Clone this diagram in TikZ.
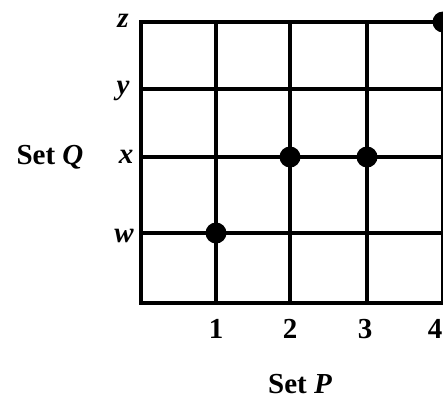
\documentclass[tikz,border=0pt]{standalone}
\usepackage{fontspec}
\setmainfont{Liberation Serif}
\begin{document}
\begin{tikzpicture}[x=1pt,y=-1pt,
  gridline/.style={line width=4pt, line cap=rect},
  dot/.style={circle, fill=black, inner sep=0pt, minimum size=21pt},
  lab/.style={font=\fontsize{29}{32}\selectfont\bfseries},
  ]
\useasboundingbox (0,0) rectangle (443,402);
% horizontal lines
\foreach \y in {22,89,157,233,303} \draw[gridline] (141,\y) -- (446,\y);
% vertical lines
\foreach \x in {141,216,290,367,443} \draw[gridline] (\x,22) -- (\x,303);
% dots
\node[dot] (d1) at (216,233) {};
\node[dot] (d2) at (290,157) {};
\node[dot] (d3) at (367,157) {};
\node[dot] (d4) at (443,22) {};
% Q labels
\node[lab] (lz) at (123,21) {\itshape z};
\node[lab] (ly) at (123,91) {\itshape y};
\node[lab] (lx) at (126,157) {\itshape x};
\node[lab] (lw) at (124,236) {\itshape w};
\node[lab] (sq) at (50,157) {Set \itshape Q};
% P labels
\node[lab] (n1) at (216,329) {1};
\node[lab] (n2) at (290,329) {2};
\node[lab] (n3) at (365,329) {3};
\node[lab] (n4) at (435,329) {4};
\node[lab] (sp) at (300,384) {Set \itshape P};
\end{tikzpicture}
\end{document}
